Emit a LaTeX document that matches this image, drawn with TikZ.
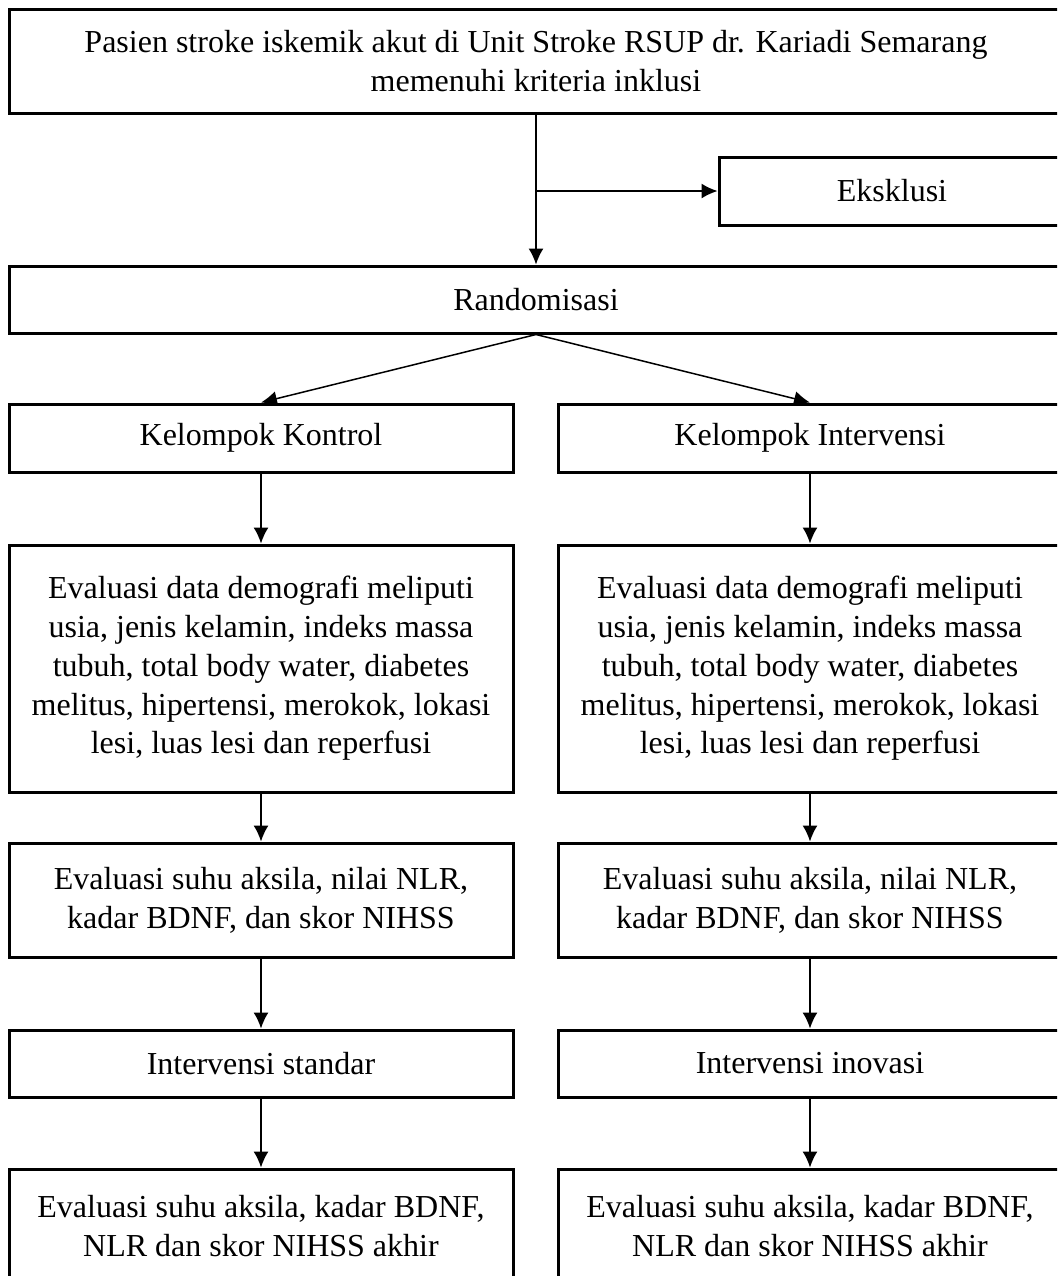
\documentclass[tikz,border=0pt]{standalone}
\usepackage{fontspec}
\setmainfont{Liberation Serif}
\usetikzlibrary{arrows.meta,positioning}

\begin{document}
\begin{tikzpicture}[x=0.5pt,y=-0.5pt,
  box/.style={draw,line width=1.5pt,align=center,inner sep=0pt,
    font=\fontsize{16}{19.4}\selectfont},
  wide/.style={box,minimum width=527pt},
  half/.style={box,minimum width=252pt},
  flow/.style={line width=0.75pt,-{Latex[length=8pt,width=7.5pt]}}]
\useasboundingbox (0,0) rectangle (1057,1276);
\clip (0,0) rectangle (1057,1276);

% top part
\node[wide,minimum height=52pt] (pasien) at (536,61)
  {Pasien stroke iskemik akut di Unit Stroke RSUP dr. Kariadi Semarang\\memenuhi kriteria inklusi};
\node[box,minimum width=173pt,minimum height=34pt] (eksklusi) at (892,191) {Eksklusi};
\node[wide,minimum height=33.5pt] (random) at (536,299.5) {Randomisasi};
\coordinate (cabang) at (536,191);

% two groups
\node[half,minimum height=34pt] (kontrol) at (261,438) {Kelompok Kontrol};
\node[half,minimum height=34pt] (intervensi) at (810,438) {Kelompok Intervensi};

\node[half,minimum height=123.5pt] (demoK) at (261,668.5)
  {Evaluasi data demografi meliputi\\usia, jenis kelamin, indeks massa\\tubuh, total body water, diabetes\\melitus, hipertensi, merokok, lokasi\\lesi, luas lesi dan reperfusi};
\node[half,minimum height=123.5pt] (demoI) at (810,668.5)
  {Evaluasi data demografi meliputi\\usia, jenis kelamin, indeks massa\\tubuh, total body water, diabetes\\melitus, hipertensi, merokok, lokasi\\lesi, luas lesi dan reperfusi};

\node[half,minimum height=57pt] (awalK) at (261,900)
  {Evaluasi suhu aksila, nilai NLR,\\kadar BDNF, dan skor NIHSS};
\node[half,minimum height=57pt] (awalI) at (810,900)
  {Evaluasi suhu aksila, nilai NLR,\\kadar BDNF, dan skor NIHSS};

\node[half,minimum height=33.5pt] (standar) at (261,1063.5) {Intervensi standar};
\node[half,minimum height=33.5pt] (inovasi) at (810,1063.5) {Intervensi inovasi};

\node[half,minimum height=57pt] (akhirK) at (261,1226)
  {Evaluasi suhu aksila, kadar BDNF,\\NLR dan skor NIHSS akhir};
\node[half,minimum height=57pt] (akhirI) at (810,1226)
  {Evaluasi suhu aksila, kadar BDNF,\\NLR dan skor NIHSS akhir};

% arrows
\draw[flow] (pasien.south) -- (random.north);
\draw[flow] (cabang) -- (eksklusi.west);
\draw[flow] (random.south) -- (kontrol.north);
\draw[flow] (random.south) -- (intervensi.north);

\draw[flow] (kontrol) -- (demoK);
\draw[flow] (demoK) -- (awalK);
\draw[flow] (awalK) -- (standar);
\draw[flow] (standar) -- (akhirK);

\draw[flow] (intervensi) -- (demoI);
\draw[flow] (demoI) -- (awalI);
\draw[flow] (awalI) -- (inovasi);
\draw[flow] (inovasi) -- (akhirI);
\end{tikzpicture}
\end{document}
